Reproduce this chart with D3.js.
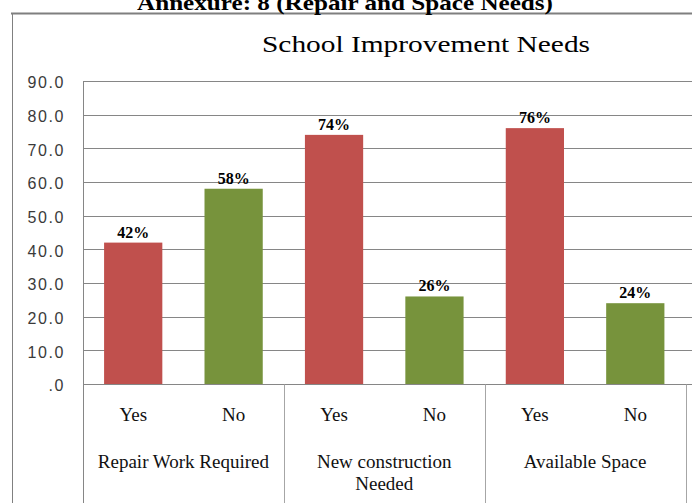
<!DOCTYPE html>
<html>
<head>
<meta charset="utf-8">
<script src="https://cdn.jsdelivr.net/npm/d3@7"></script>
<style>
  html, body { margin: 0; padding: 0; background: #fff; }
  svg { display: block; }
</style>
</head>
<body>
<svg id="chart" width="692" height="503"></svg>
<script>
// School improvement needs: share of Yes / No answers per question
const groupLabels = ["Repair Work Required", "New construction Needed", "Available Space"];
const answers = ["Yes", "No"];
const yesValues = [42, 74, 76];
const noValues = [58, 26, 24];
const yTicks = [0, 10, 20, 30, 40, 50, 60, 70, 80, 90];
const heading = "Annexure: 8 (Repair and Space Needs)";
const chartTitle = "School Improvement Needs";

const answerColors = { Yes: "#C0504D", No: "#77933C" };

const W = 692, H = 503;
const plot = { left: 83, right: 685.5, top: 81, bottom: 384 };
const serif = "'Liberation Serif', 'Times New Roman', serif";
const sans = "'Liberation Sans', Arial, sans-serif";

// one row per bar
const rows = [];
groupLabels.forEach((g, i) => {
  rows.push({ group: g, gi: i, answer: "Yes", value: yesValues[i] });
  rows.push({ group: g, gi: i, answer: "No", value: noValues[i] });
});
rows.forEach((r, i) => r.key = i);

const svg = d3.select("#chart");

const x = d3.scaleBand()
  .domain(rows.map(r => r.key))
  .range([plot.left, plot.right])
  .paddingInner(0.42)
  .paddingOuter(0.21);

const y = d3.scaleLinear().domain([0, 90]).range([plot.bottom, plot.top]);
const crisp = v => Math.round(v) + 0.5;

// outer frame (top and left edges)
svg.append("line")
  .attr("x1", 11).attr("x2", W).attr("y1", 13.5).attr("y2", 13.5)
  .attr("stroke", "#7f7f7f").attr("stroke-width", 2);
svg.append("line")
  .attr("x1", 12.5).attr("x2", 12.5).attr("y1", 13).attr("y2", H)
  .attr("stroke", "#808080").attr("stroke-width", 1);

// page heading, partly cut off at the top
svg.append("text")
  .attr("x", 345).attr("y", 10)
  .attr("text-anchor", "middle")
  .attr("font-family", serif).attr("font-weight", "bold").attr("font-size", 21)
  .attr("textLength", 416).attr("lengthAdjust", "spacingAndGlyphs")
  .text(heading);

// chart title
svg.append("text")
  .attr("x", 426).attr("y", 52)
  .attr("text-anchor", "middle")
  .attr("font-family", serif).attr("font-size", 24)
  .attr("textLength", 328).attr("lengthAdjust", "spacingAndGlyphs")
  .text(chartTitle);

// horizontal gridlines
svg.append("g").selectAll("line")
  .data(yTicks)
  .join("line")
  .attr("x1", plot.left).attr("x2", W)
  .attr("y1", d => crisp(y(d))).attr("y2", d => crisp(y(d)))
  .attr("stroke", "#868686").attr("stroke-width", 1);

// value axis labels
const yAxis = d3.axisLeft(y)
  .tickValues(yTicks)
  .tickSize(0)
  .tickPadding(0)
  .tickFormat(d => d === 0 ? ".0" : d.toFixed(1));
const yg = svg.append("g")
  .attr("transform", `translate(65,0)`)
  .call(yAxis);
yg.select(".domain").remove();
yg.selectAll("text")
  .attr("font-family", sans).attr("font-size", 16)
  .attr("letter-spacing", "1.6px")
  .attr("fill", "#3a3a3a")
  .attr("dy", "0.42em");

// bars
svg.append("g").selectAll("rect")
  .data(rows)
  .join("rect")
  .attr("x", d => x(d.key))
  .attr("width", x.bandwidth())
  .attr("y", d => y(d.value))
  .attr("height", d => y(0) - y(d.value))
  .attr("fill", d => answerColors[d.answer]);

// value labels
svg.append("g").selectAll("text")
  .data(rows)
  .join("text")
  .attr("x", d => x(d.key) + x.bandwidth() / 2)
  .attr("y", d => y(d.value) - 5)
  .attr("text-anchor", "middle")
  .attr("font-family", serif).attr("font-weight", "bold").attr("font-size", 16)
  .text(d => d.value + "%");

// category axis: baseline, left edge and group separators
svg.append("line")
  .attr("x1", plot.left).attr("x2", W)
  .attr("y1", crisp(y(0))).attr("y2", crisp(y(0)))
  .attr("stroke", "#868686");
const step = x.step();
const outer = x(0) - (step * x.paddingInner()) / 2;
const sepXs = [0, 2, 4, 6].map(i => outer + i * step);
svg.append("line")
  .attr("x1", crisp(plot.left)).attr("x2", crisp(plot.left))
  .attr("y1", plot.top).attr("y2", H)
  .attr("stroke", "#868686");
svg.append("g").selectAll("line")
  .data(sepXs.slice(1))
  .join("line")
  .attr("x1", d => crisp(d)).attr("x2", d => crisp(d))
  .attr("y1", crisp(y(0))).attr("y2", H)
  .attr("stroke", "#a6a6a6");

// answer labels under each bar
svg.append("g").selectAll("text")
  .data(rows)
  .join("text")
  .attr("x", d => x(d.key) + x.bandwidth() / 2)
  .attr("y", 421)
  .attr("text-anchor", "middle")
  .attr("font-family", serif).attr("font-size", 19)
  .attr("fill", "#111")
  .text(d => d.answer);

// group labels, wrapped to fit their pair of bars
const groupText = svg.append("g").selectAll("text")
  .data(groupLabels)
  .join("text")
  .attr("x", (d, i) => outer + (2 * i + 1) * step)
  .attr("y", 468)
  .attr("text-anchor", "middle")
  .attr("font-family", serif).attr("font-size", 19)
  .attr("fill", "#111");

groupText.each(function (d) {
  const t = d3.select(this);
  const cx = t.attr("x");
  const words = d.split(" ");
  const maxW = step * 2 - 12;
  let line = [];
  let lineNo = 0;
  let tspan = t.append("tspan").attr("x", cx).attr("dy", 0);
  words.forEach(w => {
    line.push(w);
    tspan.text(line.join(" "));
    if (tspan.node().getComputedTextLength() > maxW && line.length > 1) {
      line.pop();
      tspan.text(line.join(" "));
      line = [w];
      lineNo++;
      tspan = t.append("tspan").attr("x", cx).attr("dy", 22).text(w);
    }
  });
});
</script>
</body>
</html>
